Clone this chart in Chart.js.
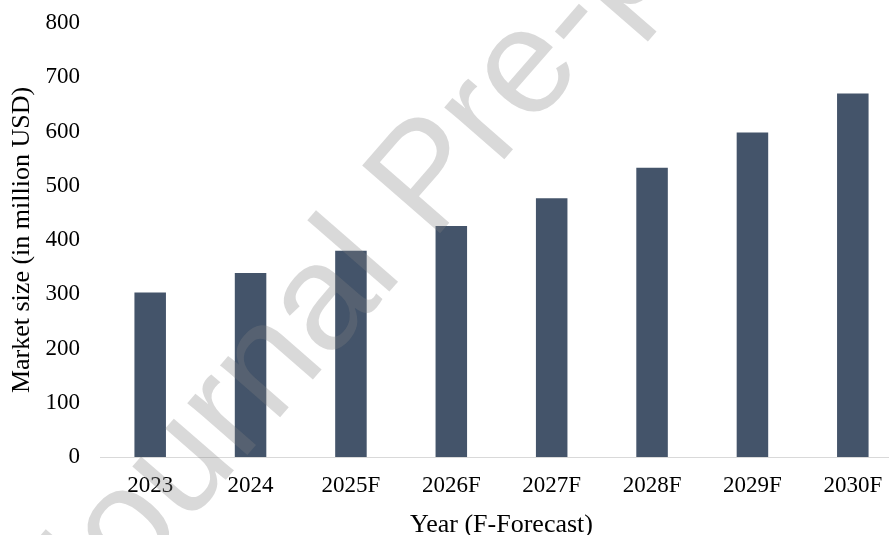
<!DOCTYPE html>
<html>
<head>
<meta charset="utf-8">
<script src="https://cdn.jsdelivr.net/npm/chart.js@4"></script>
<style>
  html, body { margin: 0; padding: 0; background: #fff; overflow: hidden; }
  #wrap { width: 889px; height: 535px; overflow: hidden; }
</style>
</head>
<body>
<div id="wrap"><canvas id="chart" width="904" height="538"></canvas></div>
<script>
// Market size per year (F = forecast)
const years = ['2023', '2024', '2025F', '2026F', '2027F', '2028F', '2029F', '2030F'];
const marketSize = [303, 339, 380, 426, 477, 533, 598, 670];

const yMin = 0;
const yMax = 800;
const yStep = 100;

const xTitle = 'Year (F-Forecast)';
const yTitle = 'Market size (in million USD)';
const watermarkText = 'Journal Pre-proof';

const serif = '"Liberation Serif", "Times New Roman", serif';

// Grey "Journal Pre-proof" stamp laid over the plot
const watermark = {
    id: 'watermark',
    afterDraw(chart) {
        const ctx = chart.ctx;
        ctx.save();
        ctx.translate(462, 208);
        ctx.rotate(-49 * Math.PI / 180);
        ctx.font = '150px "Liberation Sans", Arial, sans-serif';
        ctx.fillStyle = 'rgba(128, 128, 128, 0.3)';
        ctx.textAlign = 'center';
        ctx.textBaseline = 'alphabetic';
        ctx.fillText(watermarkText, 0, 0);
        ctx.restore();
    }
};

new Chart(document.getElementById('chart'), {
    type: 'bar',
    data: {
        labels: years,
        datasets: [{
            label: 'Market size',
            data: marketSize,
            backgroundColor: '#44546A',
            categoryPercentage: 1,
            barPercentage: 0.314
        }]
    },
    plugins: [watermark],
    options: {
        responsive: false,
        animation: false,
        layout: { padding: { top: 23, right: 1, left: 0, bottom: 0 } },
        plugins: {
            legend: { display: false },
            tooltip: { enabled: false }
        },
        scales: {
            x: {
                grid: { display: false, drawTicks: false },
                border: { display: true, color: '#d9d9d9', width: 1 },
                ticks: { color: '#000', padding: 15, font: { family: serif, size: 23 } },
                title: {
                    display: true,
                    text: xTitle,
                    color: '#000',
                    font: { family: serif, size: 26, lineHeight: 1 },
                    padding: { top: 0, bottom: 0 }
                },
                afterFit(scale) { scale.height = 81; }
            },
            y: {
                min: yMin,
                max: yMax,
                grid: { display: false, drawTicks: false },
                border: { display: false },
                ticks: { stepSize: yStep, color: '#000', padding: 20, font: { family: serif, size: 23 } },
                title: {
                    display: true,
                    text: yTitle,
                    color: '#000',
                    font: { family: serif, size: 26, lineHeight: 1 },
                    padding: { top: 9, bottom: 0 }
                },
                afterFit(scale) {
                    // fixed axis band; the top/bottom label room comes from layout padding
                    scale.width = 100;
                    scale.paddingTop = 0;
                    scale.paddingBottom = 0;
                }
            }
        }
    }
});
</script>
</body>
</html>
